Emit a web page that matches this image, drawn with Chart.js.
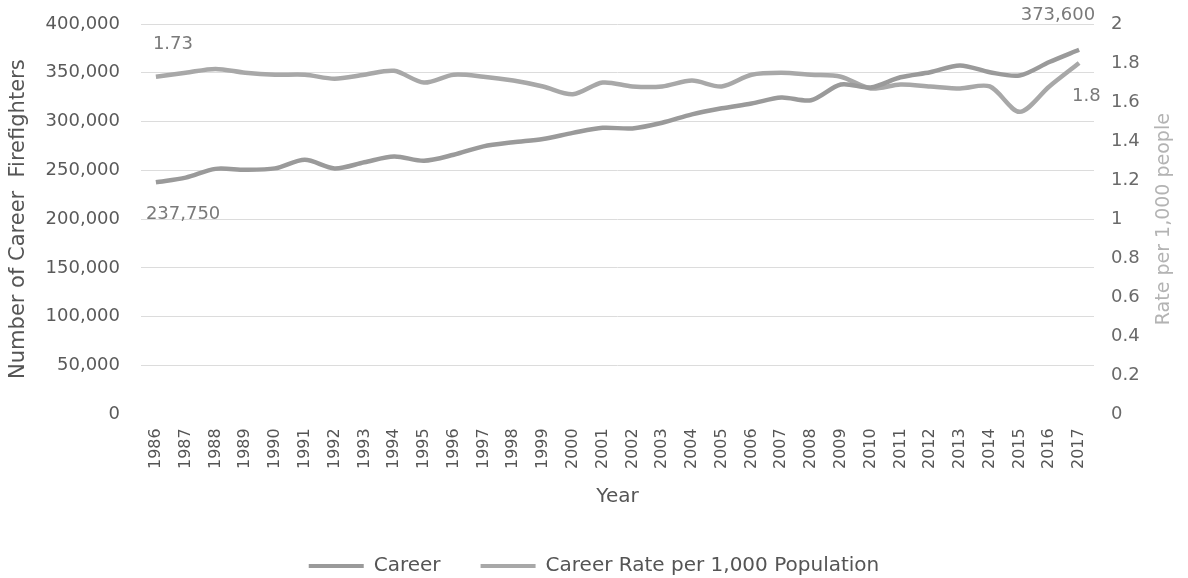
<!DOCTYPE html>
<html>
<head>
<meta charset="utf-8">
<script src="https://cdn.jsdelivr.net/npm/chart.js@4.4.1/dist/chart.umd.min.js"></script>
<style>
  html, body { margin: 0; padding: 0; background: #ffffff; }
  #wrap { width: 1188px; height: 578px; position: relative; }
</style>
</head>
<body>
<div id="wrap"><canvas id="c" width="1188" height="578"></canvas></div>
<script>
const years = ["1986","1987","1988","1989","1990","1991","1992","1993","1994","1995","1996","1997","1998","1999","2000","2001","2002","2003","2004","2005","2006","2007","2008","2009","2010","2011","2012","2013","2014","2015","2016","2017"];
const careerValues = [237750, 242500, 251500, 250500, 252000, 260800, 252000, 258300, 264200, 259800, 266000, 274600, 278800, 282200, 288400, 293600, 293000, 298800, 307400, 313600, 318500, 324700, 321900, 338000, 335000, 345400, 350600, 357500, 350600, 347200, 361000, 373600];
const rateValues = [1.73, 1.75, 1.77, 1.75, 1.74, 1.74, 1.72, 1.74, 1.76, 1.70, 1.74, 1.73, 1.71, 1.68, 1.64, 1.70, 1.68, 1.68, 1.71, 1.68, 1.74, 1.75, 1.74, 1.73, 1.67, 1.69, 1.68, 1.67, 1.68, 1.55, 1.68, 1.80];
const seriesNames = ["Career", "Career Rate per 1,000 Population"];
const leftTitle = "Number of Career  Firefighters";
const rightTitle = "Rate per 1,000 people";
const xTitle = "Year";

const FONT = "'DejaVu Sans', sans-serif";

const endLabels = {
  id: 'endLabels',
  afterDatasetsDraw(chart) {
    const ctx = chart.ctx;
    ctx.save();
    ctx.font = "18px " + FONT;
    ctx.fillStyle = "#7a7a7a";
    ctx.textBaseline = "middle";
    const m0 = chart.getDatasetMeta(0).data;
    const m1 = chart.getDatasetMeta(1).data;
    const d0 = chart.data.datasets[0].data;
    const d1 = chart.data.datasets[1].data;
    const n = d0.length - 1;
    const fmt = v => v.toLocaleString('en-US');
    ctx.textAlign = "left";
    ctx.fillText(fmt(d0[0]), m0[0].x - 10, m0[0].y + 32);
    ctx.textAlign = "right";
    ctx.fillText(fmt(d0[n]), m0[n].x + 16, m0[n].y - 34);
    ctx.textAlign = "left";
    ctx.fillText(String(d1[0]), m1[0].x - 3, m1[0].y - 32);
    ctx.fillText(String(d1[n]), m1[n].x - 7, m1[n].y + 33);
    ctx.restore();
  }
};

const rightTitlePlugin = {
  id: 'rightTitle',
  afterDraw(chart) {
    const ctx = chart.ctx;
    const a = chart.chartArea;
    ctx.save();
    ctx.font = "19px " + FONT;
    ctx.fillStyle = "#b3b3b3";
    ctx.textAlign = "center";
    ctx.textBaseline = "middle";
    ctx.translate(chart.width - 24, (a.top + a.bottom) / 2);
    ctx.rotate(-Math.PI / 2);
    ctx.fillText(rightTitle, 0, 0);
    ctx.restore();
  }
};

function fixVertical(width) {
  return function (scale) {
    scale.width = width;
    scale.paddingTop = 0;
    scale.paddingBottom = 0;
  };
}

new Chart(document.getElementById('c'), {
  type: 'line',
  data: {
    labels: years,
    datasets: [
      {
        label: seriesNames[0],
        data: careerValues,
        yAxisID: 'y',
        borderColor: '#9a9a9a',
        backgroundColor: '#9a9a9a',
        borderWidth: 4.5,
        pointRadius: 0,
        tension: 0.3,
        fill: false
      },
      {
        label: seriesNames[1],
        data: rateValues,
        yAxisID: 'y1',
        borderColor: '#a8a8a8',
        backgroundColor: '#a8a8a8',
        borderWidth: 4.5,
        pointRadius: 0,
        tension: 0.3,
        fill: false
      }
    ]
  },
  options: {
    responsive: false,
    animation: false,
    devicePixelRatio: 1,
    layout: { padding: { top: 24, bottom: -8, left: 0, right: 0 } },
    plugins: {
      legend: {
        position: 'bottom',
        labels: {
          font: { family: FONT, size: 20 },
          color: '#555555',
          boxWidth: 55,
          boxHeight: 4,
          padding: 40,
          generateLabels(chart) {
            const items = Chart.defaults.plugins.legend.labels.generateLabels(chart);
            items.forEach(it => { it.lineWidth = 0; it.fillStyle = it.strokeStyle; });
            return items;
          }
        }
      },
      tooltip: { enabled: false }
    },
    scales: {
      x: {
        offset: true,
        grid: { display: false, drawTicks: false },
        border: { display: false },
        ticks: {
          font: { family: FONT, size: 16 },
          color: '#555555',
          minRotation: 90,
          maxRotation: 90,
          autoSkip: false,
          padding: 14
        },
        title: {
          display: true,
          text: xTitle,
          font: { family: FONT, size: 20 },
          color: '#555555',
          padding: { top: 2, bottom: 7 }
        }
      },
      y: {
        position: 'left',
        min: 0,
        max: 400000,
        grid: {
          color: (c) => c.tick && c.tick.value === 0 ? 'rgba(0,0,0,0)' : '#dcdcdc',
          lineWidth: 1,
          drawTicks: false
        },
        border: { display: false },
        ticks: {
          stepSize: 50000,
          font: { family: FONT, size: 18 },
          color: '#5a5a5a',
          padding: 21,
          callback: v => v.toLocaleString('en-US')
        },
        title: {
          display: true,
          text: leftTitle,
          font: { family: FONT, size: 21 },
          color: '#555555',
          padding: { top: 6, bottom: 6 }
        },
        afterFit: fixVertical(141)
      },
      y1: {
        position: 'right',
        min: 0,
        max: 2,
        grid: { display: false, drawTicks: false },
        border: { display: false },
        ticks: {
          stepSize: 0.2,
          font: { family: FONT, size: 18 },
          color: '#6a6a6a',
          padding: 17,
          callback: v => String(Math.round(v * 10) / 10)
        },
        afterFit: fixVertical(94)
      }
    }
  },
  plugins: [endLabels, rightTitlePlugin]
});
</script>
</body>
</html>
